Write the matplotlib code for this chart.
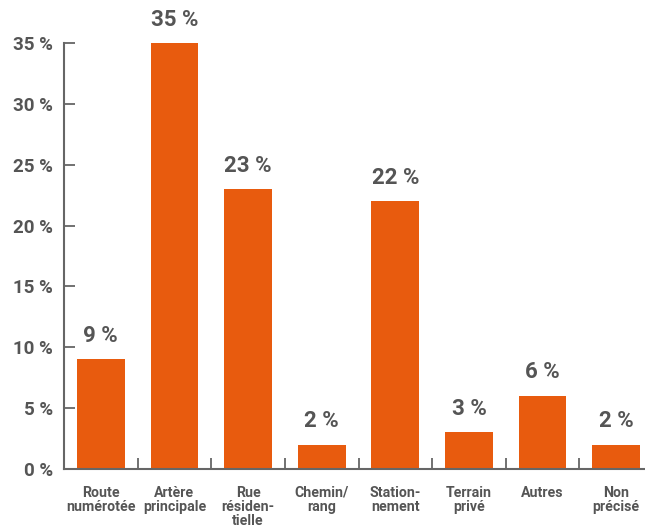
import matplotlib
matplotlib.use('Agg')
import matplotlib.pyplot as plt
import numpy as np

categories = ['Route\nnumérotée', 'Artère\nprincipale', 'Rue\nrésiden-\ntielle', 'Chemin/\nrang',
              'Station-\nnement', 'Terrain\nprivé', 'Autres', 'Non\nprécisé']
values = [9, 35, 23, 2, 22, 3, 6, 2]
y_ticks = [0, 5, 10, 15, 20, 25, 30, 35]

orange = '#E85B0E'
grey = '#555555'
plt.rcParams['font.family'] = ['Roboto', 'DejaVu Sans']

fig = plt.figure(figsize=(6.45, 5.26), dpi=100)
ax = fig.add_axes([64 / 645, 57 / 526, 589 / 645, 426 / 526])

x = np.arange(len(values))
ax.bar(x, values, width=0.65, color=orange, zorder=2)

for xi, v in zip(x, values):
    ax.annotate(f'{v} %', (xi, v), xytext=(0, 9), textcoords='offset points',
                ha='center', va='bottom', fontsize=16, fontweight='bold', color=grey)

ax.set_xlim(-0.5, len(values) - 0.5)
ax.set_ylim(0, 35)
ax.set_yticks(y_ticks)
ax.set_yticklabels([f'{t} %' for t in y_ticks], fontsize=13.5, fontweight='bold', color=grey)
ax.set_xticks(x)
ax.set_xticklabels(categories, fontsize=10.2, fontweight='bold', color=grey, linespacing=1.0,
                   va='top')
ax.set_xticks(np.arange(0.5, len(values)), minor=True)

ax.tick_params(axis='x', which='major', length=0, pad=12)
ax.tick_params(axis='x', which='minor', direction='in', length=8, width=1.3, color='#666666')
ax.tick_params(axis='y', direction='in', length=8, width=1.3, color='#666666', pad=8)

for s in ['top', 'right']:
    ax.spines[s].set_visible(False)
for s in ['left', 'bottom']:
    ax.spines[s].set_color('#666666')
    ax.spines[s].set_linewidth(1.5)

fig.savefig('out.png', dpi=100)
